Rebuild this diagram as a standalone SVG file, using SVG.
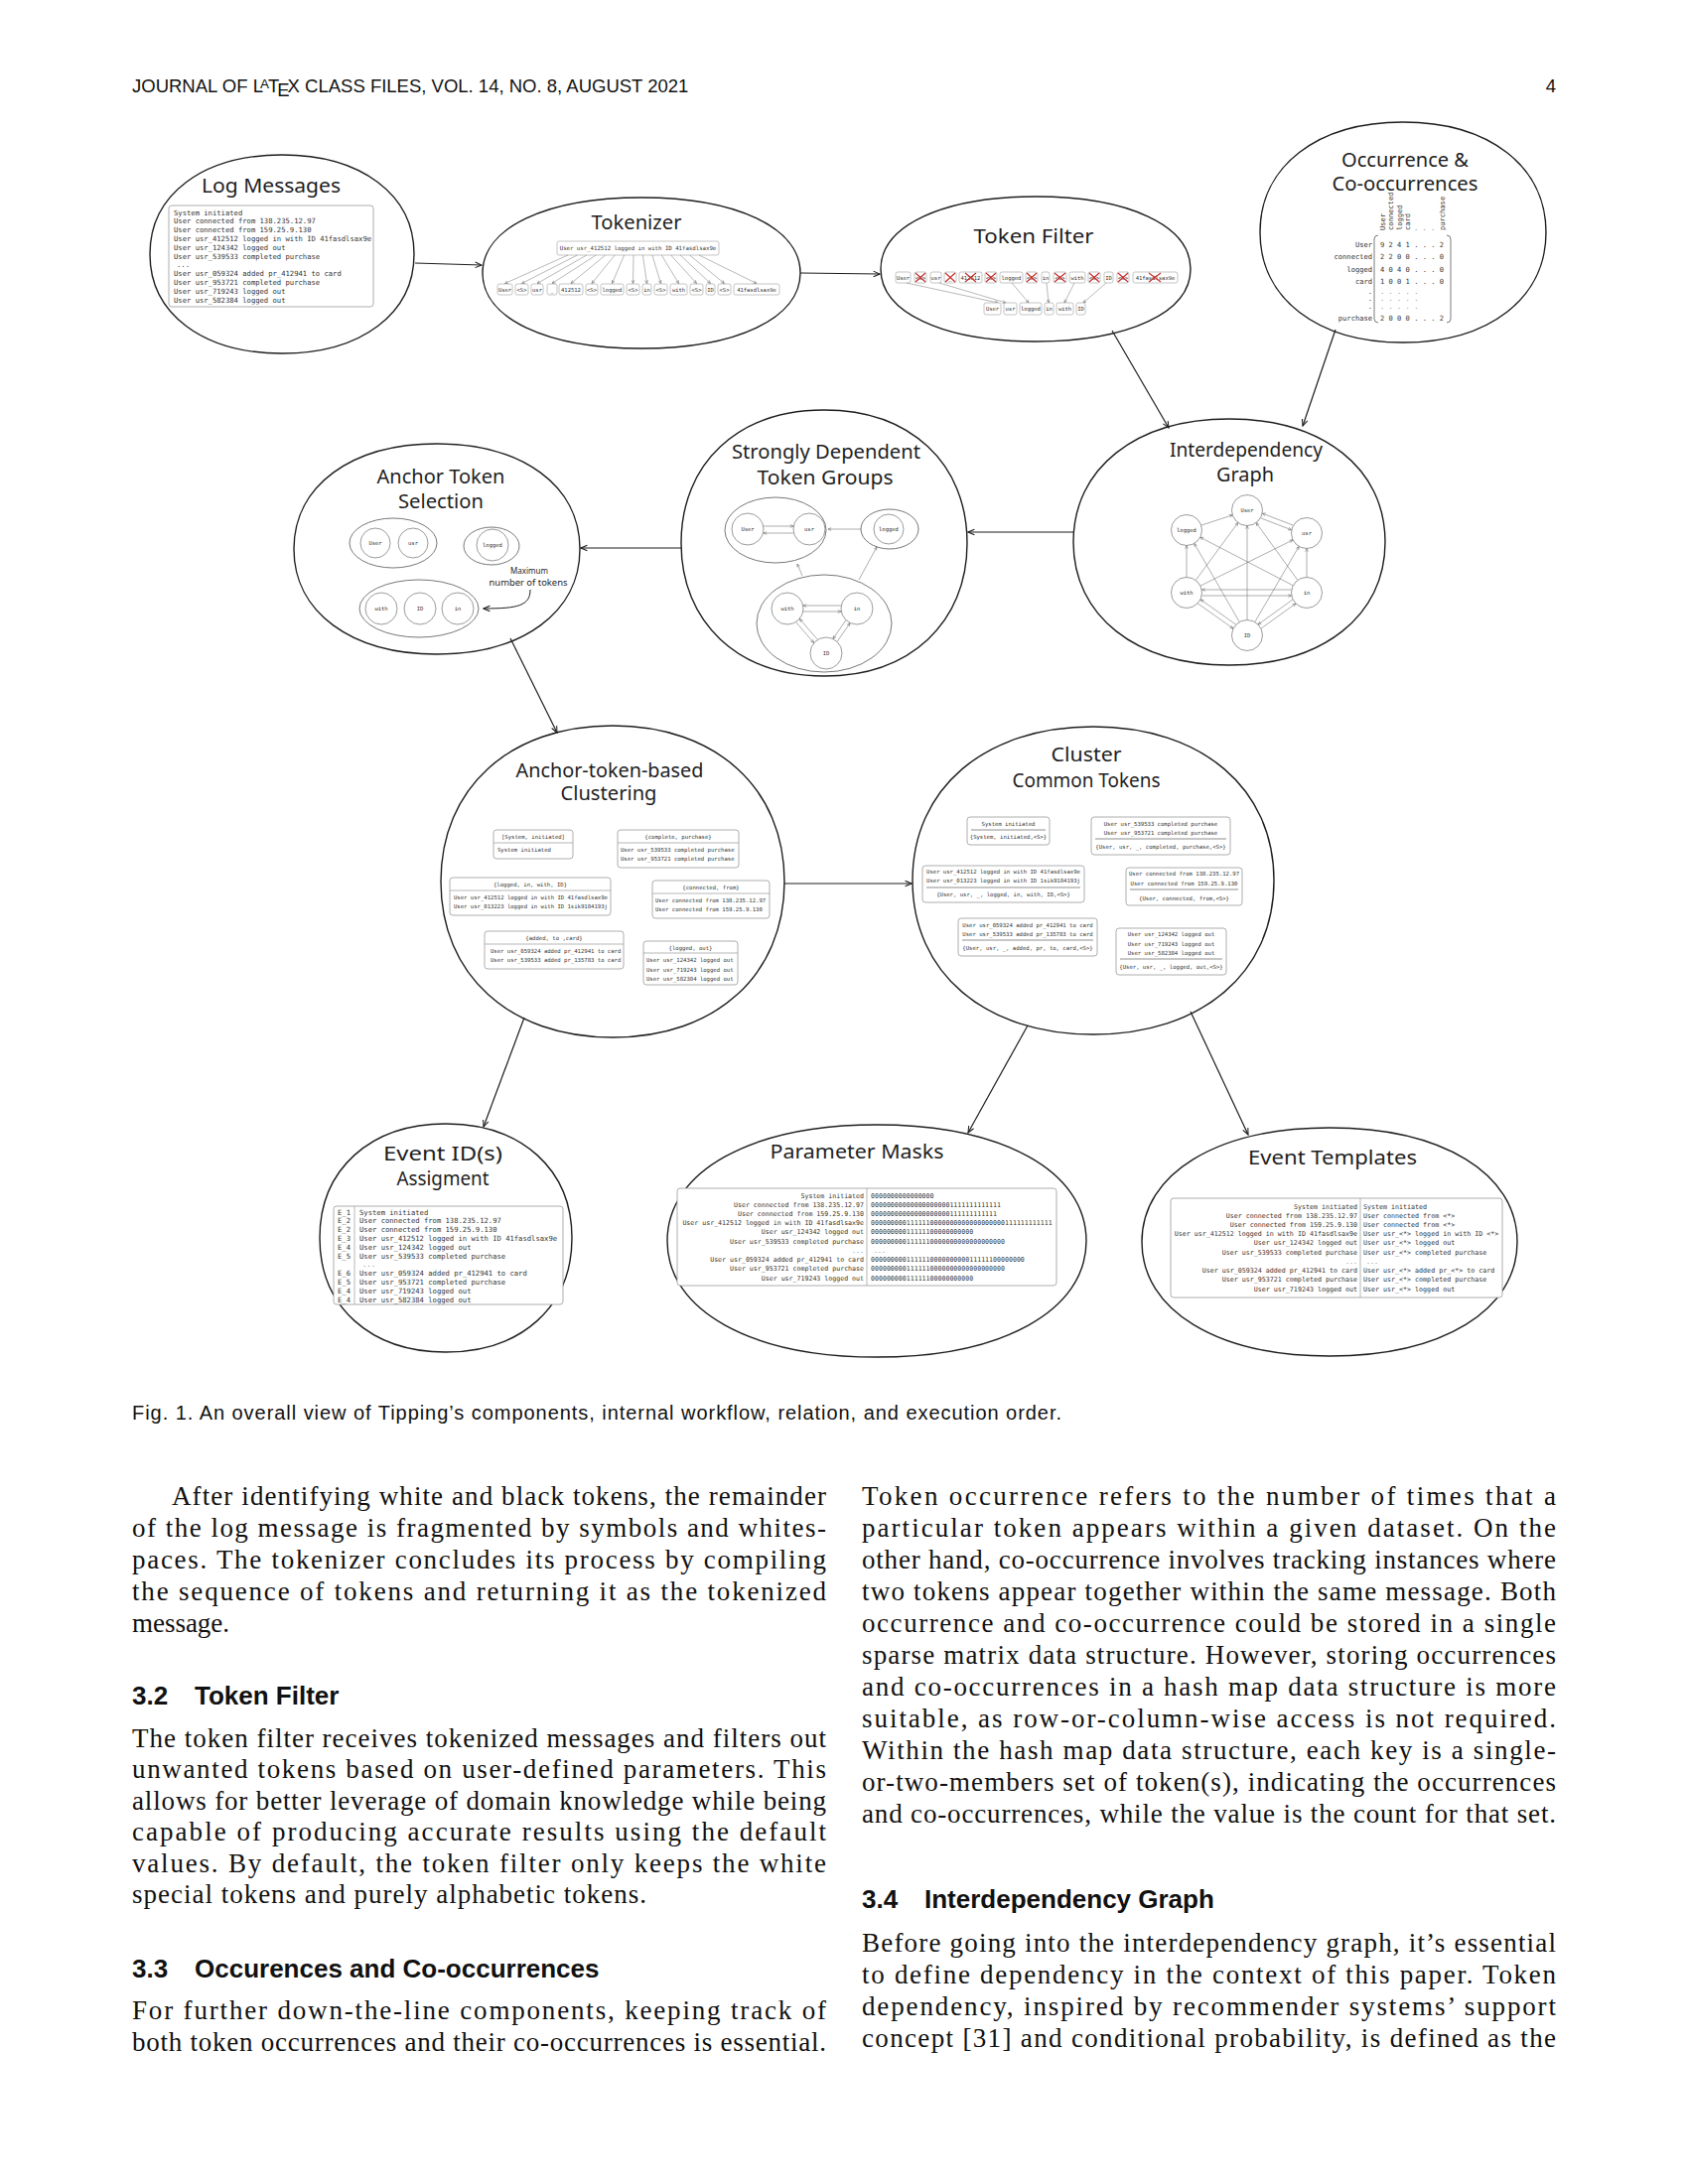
<svg xmlns="http://www.w3.org/2000/svg" width="1700" height="2200" viewBox="0 0 1700 2200">
<style>
.ell{fill:none;stroke:#1e1e1e;stroke-width:1.4}
.ttl{font-family:"Noto Sans",sans-serif;font-size:20px;fill:#1e1e1e;text-anchor:middle}
.ann{font-family:"Noto Sans",sans-serif;font-size:9px;fill:#1e1e1e;text-anchor:middle}
.m{font-family:"DejaVu Sans Mono",monospace;fill:#333}
.box{fill:#fff;stroke:#9a9a9a;stroke-width:0.8}
.tb{fill:#fff;stroke:#a0a0a0;stroke-width:0.6}
.cir{fill:#fff;stroke:#707070;stroke-width:0.7}
.grp{fill:none;stroke:#555;stroke-width:0.8}
.conn{fill:none;stroke:#1e1e1e;stroke-width:1.2;marker-end:url(#arr)}
.th{fill:none;stroke:#8a8a8a;stroke-width:0.6;marker-end:url(#arrs)}
.gl{fill:none;stroke:#777;stroke-width:0.6;marker-end:url(#arrs)}
.sep{stroke:#9a9a9a;stroke-width:0.7}
.dsep{stroke:#444;stroke-width:0.6}
.x{stroke:#c92a2a;stroke-width:1.1}
.body{font-family:"Liberation Serif",serif;font-size:27px;fill:#111}
.head{font-family:"Liberation Sans",sans-serif;font-size:26px;font-weight:bold;fill:#111}
</style>
<defs>
<marker id="arr" viewBox="0 0 10 10" refX="9" refY="5" markerWidth="8" markerHeight="8" markerUnits="userSpaceOnUse" orient="auto">
<path d="M1,1.5 L9,5 L1,8.5" fill="none" stroke="#1e1e1e" stroke-width="1.3"/>
</marker>
<marker id="arrs" viewBox="0 0 10 10" refX="9" refY="5" markerWidth="4" markerHeight="4" markerUnits="userSpaceOnUse" orient="auto">
<path d="M1,1.5 L9,5 L1,8.5" fill="none" stroke="#666" stroke-width="1.4"/>
</marker>
</defs>
<rect width="1700" height="2200" fill="#fff"/>

<g id="header" font-family="Liberation Sans, sans-serif" font-size="18.5" fill="#111">
<text x="133" y="93">JOURNAL OF L<tspan dx="-3" dy="-4" font-size="13.5">A</tspan><tspan dx="-1" dy="4">T</tspan><tspan dx="-2" dy="4">E</tspan><tspan dx="-2" dy="-4">X CLASS FILES, VOL. 14, NO. 8, AUGUST 2021</tspan></text>
<text x="1567" y="93" text-anchor="end">4</text>
</g>

<g id="connectors">
<path class="conn" d="M418,265 L485,267"/>
<path class="conn" d="M806,275 L886,276"/>
<path class="conn" d="M1120,333 L1177,431"/>
<path class="conn" d="M1345,332 L1312,429"/>
<path class="conn" d="M1081,536 L975,536"/>
<path class="conn" d="M686,552 L585,552"/>
<path class="conn" d="M514,643 L561,738"/>
<path class="conn" d="M790,890 L918,890"/>
<path class="conn" d="M528,1025 L487,1135"/>
<path class="conn" d="M1035,1033 L975,1141"/>
<path class="conn" d="M1199,1019 L1257,1143"/>
</g>

<g id="log-messages">
<path class="ell" d="M151,256 C151,196 204.2,156 284,156 C363.8,156 417,196 417,256 C417,316 363.8,356 284,356 C204.2,356 151,316 151,256 Z"/>
<text class="ttl" x="273" y="194" textLength="140" lengthAdjust="spacingAndGlyphs">Log Messages</text>
<rect class="box" x="170" y="207" width="206" height="102" rx="3"/>
<g class="m" font-size="7.2">
<text x="175" y="216.5">System initiated</text>
<text x="175" y="225.3">User connected from 138.235.12.97</text>
<text x="175" y="234.1">User connected from 159.25.9.130</text>
<text x="175" y="242.9">User usr_412512 logged in with ID 41fasdlsax9e</text>
<text x="175" y="251.7">User usr_124342 logged out</text>
<text x="175" y="260.5">User usr_539533 completed purchase</text>
<text x="178" y="269.3">...</text>
<text x="175" y="278.1">User usr_059324 added pr_412941 to card</text>
<text x="175" y="286.9">User usr_953721 completed purchase</text>
<text x="175" y="295.7">User usr_719243 logged out</text>
<text x="175" y="304.5">User usr_582384 logged out</text>
</g>
</g>

<g id="tokenizer">
<path class="ell" d="M486,275 C486,229.4 550,199 646,199 C742,199 806,229.4 806,275 C806,320.6 742,351 646,351 C550,351 486,320.6 486,275 Z"/>
<text class="ttl" x="641" y="231" textLength="91" lengthAdjust="spacingAndGlyphs">Tokenizer</text>
<rect class="tb" x="561" y="243" width="163" height="14" rx="2"/>
<text class="m" font-size="5.7" x="642.5" y="252" text-anchor="middle">User usr_412512 logged in with ID 41fasdlsax9e</text>
<g>
<path class="th" d="M572,257 L508.5,285.5"/>
<path class="th" d="M581.4,257 L525.5,285.5"/>
<path class="th" d="M590.9,257 L541,285.5"/>
<path class="th" d="M600.3,257 L556,285.5"/>
<path class="th" d="M609.7,257 L575,285.5"/>
<path class="th" d="M619.1,257 L596,285.5"/>
<path class="th" d="M628.6,257 L616.5,285.5"/>
<path class="th" d="M638,257 L637.5,285.5"/>
<path class="th" d="M647.4,257 L651.5,285.5"/>
<path class="th" d="M656.9,257 L665.5,285.5"/>
<path class="th" d="M666.3,257 L683.5,285.5"/>
<path class="th" d="M675.7,257 L701.5,285.5"/>
<path class="th" d="M685.1,257 L715.5,285.5"/>
<path class="th" d="M694.6,257 L729.5,285.5"/>
<path class="th" d="M704,257 L762,285.5"/>
</g>
<g>
<rect class="tb" x="501" y="286" width="15" height="11" rx="2"/>
<rect class="tb" x="519" y="286" width="13" height="11" rx="2"/>
<rect class="tb" x="535" y="286" width="12" height="11" rx="2"/>
<rect class="tb" x="551" y="286" width="10" height="11" rx="2"/>
<rect class="tb" x="563" y="286" width="24" height="11" rx="2"/>
<rect class="tb" x="590" y="286" width="12" height="11" rx="2"/>
<rect class="tb" x="605" y="286" width="23" height="11" rx="2"/>
<rect class="tb" x="631" y="286" width="13" height="11" rx="2"/>
<rect class="tb" x="647" y="286" width="9" height="11" rx="2"/>
<rect class="tb" x="659" y="286" width="13" height="11" rx="2"/>
<rect class="tb" x="675" y="286" width="17" height="11" rx="2"/>
<rect class="tb" x="695" y="286" width="13" height="11" rx="2"/>
<rect class="tb" x="711" y="286" width="9" height="11" rx="2"/>
<rect class="tb" x="723" y="286" width="13" height="11" rx="2"/>
<rect class="tb" x="739" y="286" width="46" height="11" rx="2"/>
</g>
<g class="m" font-size="5.5" text-anchor="middle">
<text x="508.5" y="293.5">User</text>
<text x="525.5" y="293.5">&lt;S&gt;</text>
<text x="541" y="293.5">usr</text>
<text x="556" y="293.5">_</text>
<text x="575" y="293.5">412512</text>
<text x="596" y="293.5">&lt;S&gt;</text>
<text x="616.5" y="293.5">logged</text>
<text x="637.5" y="293.5">&lt;S&gt;</text>
<text x="651.5" y="293.5">in</text>
<text x="665.5" y="293.5">&lt;S&gt;</text>
<text x="683.5" y="293.5">with</text>
<text x="701.5" y="293.5">&lt;S&gt;</text>
<text x="715.5" y="293.5">ID</text>
<text x="729.5" y="293.5">&lt;S&gt;</text>
<text x="762" y="293.5">41fasdlsax9e</text>
</g>
</g>

<g id="token-filter">
<path class="ell" d="M887,271 C887,227.2 949.4,198 1043,198 C1136.6,198 1199,227.2 1199,271 C1199,314.8 1136.6,344 1043,344 C949.4,344 887,314.8 887,271 Z"/>
<text class="ttl" x="1041" y="245" textLength="121" lengthAdjust="spacingAndGlyphs">Token Filter</text>
<g>
<rect class="tb" x="902" y="274" width="15" height="11" rx="2"/>
<rect class="tb" x="921" y="274" width="12" height="11" rx="2"/>
<rect class="tb" x="937" y="274" width="11" height="11" rx="2"/>
<rect class="tb" x="951" y="274" width="12" height="11" rx="2"/>
<rect class="tb" x="966" y="274" width="23" height="11" rx="2"/>
<rect class="tb" x="992" y="274" width="12" height="11" rx="2"/>
<rect class="tb" x="1007" y="274" width="23" height="11" rx="2"/>
<rect class="tb" x="1033" y="274" width="12" height="11" rx="2"/>
<rect class="tb" x="1049" y="274" width="8" height="11" rx="2"/>
<rect class="tb" x="1061" y="274" width="13" height="11" rx="2"/>
<rect class="tb" x="1077" y="274" width="16" height="11" rx="2"/>
<rect class="tb" x="1096" y="274" width="12" height="11" rx="2"/>
<rect class="tb" x="1112" y="274" width="9" height="11" rx="2"/>
<rect class="tb" x="1125" y="274" width="12" height="11" rx="2"/>
<rect class="tb" x="1141" y="274" width="45" height="11" rx="2"/>
</g>
<g class="m" font-size="5.5" text-anchor="middle">
<text x="909.5" y="281.5">User</text>
<text x="927" y="281.5">&lt;S&gt;</text>
<text x="942.5" y="281.5">usr</text>
<text x="957" y="281.5">_</text>
<text x="977.5" y="281.5">412512</text>
<text x="998" y="281.5">&lt;S&gt;</text>
<text x="1018.5" y="281.5">logged</text>
<text x="1039" y="281.5">&lt;S&gt;</text>
<text x="1053" y="281.5">in</text>
<text x="1067.5" y="281.5">&lt;S&gt;</text>
<text x="1085" y="281.5">with</text>
<text x="1102" y="281.5">&lt;S&gt;</text>
<text x="1116.5" y="281.5">ID</text>
<text x="1131" y="281.5">&lt;S&gt;</text>
<text x="1163.5" y="281.5">41fasdlsax9e</text>
</g>
<g class="x">
<path d="M922,275 L932,284 M932,275 L922,284"/>
<path d="M952,275 L962,284 M962,275 L952,284"/>
<path d="M972,275 L983,284 M983,275 L972,284"/>
<path d="M993,275 L1003,284 M1003,275 L993,284"/>
<path d="M1034,275 L1044,284 M1044,275 L1034,284"/>
<path d="M1062,275 L1073,284 M1073,275 L1062,284"/>
<path d="M1097,275 L1107,284 M1107,275 L1097,284"/>
<path d="M1126,275 L1136,284 M1136,275 L1126,284"/>
<path d="M1157,275 L1169,284 M1169,275 L1157,284"/>
</g>
<g>
<path class="th" d="M913,285 L1005,305"/>
<path class="th" d="M946,285 L1013,305"/>
<path class="th" d="M1019,285 L1036,305"/>
<path class="th" d="M1054,285 L1056,305"/>
<path class="th" d="M1082,285 L1072,305"/>
<path class="th" d="M1114,285 L1091,305"/>
</g>
<g>
<rect class="tb" x="991" y="305" width="17" height="12" rx="2"/>
<rect class="tb" x="1011" y="305" width="13" height="12" rx="2"/>
<rect class="tb" x="1027" y="305" width="22" height="12" rx="2"/>
<rect class="tb" x="1052" y="305" width="9" height="12" rx="2"/>
<rect class="tb" x="1064" y="305" width="17" height="12" rx="2"/>
<rect class="tb" x="1084" y="305" width="9" height="12" rx="2"/>
</g>
<g class="m" font-size="5.5" text-anchor="middle">
<text x="999.5" y="313">User</text>
<text x="1017.5" y="313">usr</text>
<text x="1038" y="313">logged</text>
<text x="1056.5" y="313">in</text>
<text x="1072.5" y="313">with</text>
<text x="1088.5" y="313">ID</text>
</g>
</g>

<g id="occurrence">
<path class="ell" d="M1269,234 C1269,167.4 1326.6,123 1413,123 C1499.4,123 1557,167.4 1557,234 C1557,300.6 1499.4,345 1413,345 C1326.6,345 1269,300.6 1269,234 Z"/>
<text class="ttl" x="1415" y="168" textLength="128" lengthAdjust="spacingAndGlyphs">Occurrence &amp;</text>
<text class="ttl" x="1415" y="192" textLength="147" lengthAdjust="spacingAndGlyphs">Co-occurrences</text>
<g class="m" font-size="7.1">
<text transform="translate(1394.5,232) rotate(-90)">User</text>
<text transform="translate(1403,232) rotate(-90)">connected</text>
<text transform="translate(1411.5,232) rotate(-90)">logged</text>
<text transform="translate(1420,232) rotate(-90)">card</text>
<text x="1424" y="232" fill="#888">. . .</text>
<text transform="translate(1454.5,232) rotate(-90)">purchase</text>
</g>
<g class="m" font-size="7.1" text-anchor="end">
<text x="1382" y="249">User</text>
<text x="1382" y="261">connected</text>
<text x="1382" y="273.5">logged</text>
<text x="1382" y="286">card</text>
<text x="1382" y="295.5">.</text>
<text x="1382" y="303">.</text>
<text x="1382" y="310.5">.</text>
<text x="1382" y="322.5">purchase</text>
</g>
<g class="m" font-size="7.1" xml:space="preserve">
<text x="1390" y="249">9 2 4 1 . . . 2</text>
<text x="1390" y="261">2 2 0 0 . . . 0</text>
<text x="1390" y="273.5">4 0 4 0 . . . 0</text>
<text x="1390" y="286">1 0 0 1 . . . 0</text>
<text x="1390" y="295.5" fill="#999">. . . .       .</text>
<text x="1390" y="303" fill="#999">. . . .       .</text>
<text x="1390" y="310.5" fill="#999">. . . .       .</text>
<text x="1390" y="322.5">2 0 0 0 . . . 2</text>
</g>
<path d="M1388,237 Q1384,237 1384,241 L1384,321 Q1384,325 1388,325" fill="none" stroke="#444" stroke-width="0.7"/>
<path d="M1457,237 Q1461,237 1461,241 L1461,321 Q1461,325 1457,325" fill="none" stroke="#444" stroke-width="0.7"/>
</g>

<g id="anchor-token-selection">
<path class="ell" d="M296,553 C296,489.4 353.6,447 440,447 C526.4,447 584,489.4 584,553 C584,616.6 526.4,659 440,659 C353.6,659 296,616.6 296,553 Z"/>
<text class="ttl" x="444" y="487" textLength="129" lengthAdjust="spacingAndGlyphs">Anchor Token</text>
<text class="ttl" x="444" y="512" textLength="86" lengthAdjust="spacingAndGlyphs">Selection</text>
<ellipse class="grp" cx="396" cy="547" rx="44" ry="25"/>
<circle class="cir" cx="378" cy="547" r="15"/>
<circle class="cir" cx="416" cy="547" r="15"/>
<ellipse class="grp" cx="495" cy="550" rx="28" ry="19"/>
<circle class="cir" cx="496" cy="549" r="16"/>
<ellipse class="grp" cx="422" cy="613" rx="60" ry="29"/>
<circle class="cir" cx="384" cy="613" r="16"/>
<circle class="cir" cx="423" cy="613" r="16"/>
<circle class="cir" cx="461" cy="613" r="16"/>
<g class="m" font-size="5.5" text-anchor="middle">
<text x="378" y="549">User</text>
<text x="416" y="549">usr</text>
<text x="496" y="551">logged</text>
<text x="384" y="615">with</text>
<text x="423" y="615">ID</text>
<text x="461" y="615">in</text>
</g>
<text class="ann" x="533" y="578" textLength="38" lengthAdjust="spacingAndGlyphs">Maximum</text>
<text class="ann" x="532" y="590" textLength="79" lengthAdjust="spacingAndGlyphs">number of tokens</text>
<path d="M534,594 C534,610 522,613 487,613" fill="none" stroke="#1e1e1e" stroke-width="1" marker-end="url(#arr)"/>
</g>

<g id="strongly-dependent">
<path class="ell" d="M686,547 C686,466.6 743.6,413 830,413 C916.4,413 974,466.6 974,547 C974,627.4 916.4,681 830,681 C743.6,681 686,627.4 686,547 Z"/>
<text class="ttl" x="832" y="462" textLength="190" lengthAdjust="spacingAndGlyphs">Strongly Dependent</text>
<text class="ttl" x="831" y="488" textLength="137" lengthAdjust="spacingAndGlyphs">Token Groups</text>
<ellipse class="grp" cx="781" cy="534" rx="51" ry="33"/>
<circle class="cir" cx="753" cy="533" r="16"/>
<circle class="cir" cx="815" cy="533" r="16"/>
<ellipse class="grp" cx="896" cy="533" rx="29" ry="20"/>
<circle class="cir" cx="895" cy="533" r="15"/>
<ellipse class="grp" cx="830" cy="628" rx="68" ry="49"/>
<circle class="cir" cx="793" cy="613" r="16"/>
<circle class="cir" cx="863" cy="613" r="16"/>
<circle class="cir" cx="832" cy="658" r="16"/>
<g class="m" font-size="5.5" text-anchor="middle">
<text x="753" y="535">User</text>
<text x="815" y="535">usr</text>
<text x="895" y="535">logged</text>
<text x="793" y="615">with</text>
<text x="863" y="615">in</text>
<text x="832" y="660">ID</text>
</g>
<g>
<path class="gl" d="M769,530 L799,530"/>
<path class="gl" d="M799,537 L769,537"/>
<path class="gl" d="M867,533 L834,533"/>
<path class="gl" d="M847,610 L809,610"/>
<path class="gl" d="M809,616 L847,616"/>
<path class="gl" d="M801.6,626.7 L819.6,647.5"/>
<path class="gl" d="M823.4,644.3 L805.4,623.5"/>
<path class="gl" d="M851.8,624.8 L839,643.4"/>
<path class="gl" d="M843.2,646.2 L856,627.6"/>
<path class="gl" d="M808,580 L803,568"/>
<path class="gl" d="M865,584 L883,551"/>
</g>
</g>

<g id="interdependency-graph">
<path class="ell" d="M1081,546 C1081,471.6 1143.8,422 1238,422 C1332.2,422 1395,471.6 1395,546 C1395,620.4 1332.2,670 1238,670 C1143.8,670 1081,620.4 1081,546 Z"/>
<text class="ttl" x="1255" y="460" textLength="154" lengthAdjust="spacingAndGlyphs">Interdependency</text>
<text class="ttl" x="1254" y="485" textLength="58" lengthAdjust="spacingAndGlyphs">Graph</text>
<g>
<path class="gl" d="M1209.7,529.2 L1241.3,518.8"/>
<path class="gl" d="M1269.6,521.8 L1300.6,533.8"/>
<path class="gl" d="M1302.4,529.2 L1271.4,517.2"/>
<path class="gl" d="M1195,581.5 L1195,549.5"/>
<path class="gl" d="M1316,581.5 L1316,552.5"/>
<path class="gl" d="M1204.2,584.5 L1246.8,526.5"/>
<path class="gl" d="M1208.9,590.1 L1302.1,543.9"/>
<path class="gl" d="M1306.9,584.4 L1265.1,526.6"/>
<path class="gl" d="M1302.3,589.8 L1208.7,541.2"/>
<path class="gl" d="M1256,624.5 L1256,529.5"/>
<path class="gl" d="M1248.3,626.6 L1202.7,547.4"/>
<path class="gl" d="M1263.8,626.6 L1308.2,550.4"/>
<path class="gl" d="M1300.5,594 L1210.5,594"/>
<path class="gl" d="M1210.5,600 L1300.5,600"/>
<path class="gl" d="M1206.3,607.9 L1241.9,633.1"/>
<path class="gl" d="M1244.7,629.1 L1209.1,603.9"/>
<path class="gl" d="M1301.9,604 L1267.1,629"/>
<path class="gl" d="M1270.1,633 L1304.9,608"/>
</g>
<circle class="cir" cx="1256" cy="514" r="15.5"/>
<circle class="cir" cx="1316" cy="537" r="15.5"/>
<circle class="cir" cx="1195" cy="534" r="15.5"/>
<circle class="cir" cx="1195" cy="597" r="15.5"/>
<circle class="cir" cx="1316" cy="597" r="15.5"/>
<circle class="cir" cx="1256" cy="640" r="15.5"/>
<g class="m" font-size="5.5" text-anchor="middle">
<text x="1256" y="516">User</text>
<text x="1316" y="539">usr</text>
<text x="1195" y="536">logged</text>
<text x="1195" y="599">with</text>
<text x="1316" y="599">in</text>
<text x="1256" y="642">ID</text>
</g>
</g>

<g id="anchor-token-based-clustering">
<path class="ell" d="M444,888 C444,793.8 513.2,731 617,731 C720.8,731 790,793.8 790,888 C790,982.2 720.8,1045 617,1045 C513.2,1045 444,982.2 444,888 Z"/>
<text class="ttl" x="614" y="783" textLength="189" lengthAdjust="spacingAndGlyphs">Anchor-token-based</text>
<text class="ttl" x="613" y="806" textLength="97" lengthAdjust="spacingAndGlyphs">Clustering</text>
<rect class="box" x="497" y="836" width="80" height="29" rx="3"/>
<line class="sep" x1="497" y1="849" x2="577" y2="849"/>
<rect class="box" x="622" y="836" width="122" height="38" rx="3"/>
<line class="sep" x1="622" y1="849" x2="744" y2="849"/>
<rect class="box" x="453" y="884" width="162" height="38" rx="3"/>
<line class="sep" x1="453" y1="897" x2="615" y2="897"/>
<rect class="box" x="657" y="887" width="118" height="38" rx="3"/>
<line class="sep" x1="657" y1="900" x2="775" y2="900"/>
<rect class="box" x="488" y="938" width="140" height="38" rx="3"/>
<line class="sep" x1="488" y1="951" x2="628" y2="951"/>
<rect class="box" x="648" y="948" width="95" height="44" rx="3"/>
<line class="sep" x1="648" y1="960" x2="743" y2="960"/>
<g class="m" font-size="5.6" text-anchor="middle">
<text x="537" y="844.5">[System, initiated]</text>
<text x="683" y="844.5">{complete, purchase}</text>
<text x="534" y="892.5">{logged, in, with, ID}</text>
<text x="716" y="895.5">{connected, from}</text>
<text x="558" y="947">{added, to ,card}</text>
<text x="695.5" y="956.5">{logged, out}</text>
</g>
<g class="m" font-size="5.6">
<text x="501" y="858">System initiated</text>
<text x="625" y="858">User usr_539533 completed purchase</text>
<text x="625" y="867">User usr_953721 completed purchase</text>
<text x="457" y="906">User usr_412512 logged in with ID 41fasdlsax9e</text>
<text x="457" y="915">User usr_013223 logged in with ID 1sik9184193j</text>
<text x="660" y="909">User connected from 138.235.12.97</text>
<text x="660" y="918">User connected from 159.25.9.130</text>
<text x="494" y="960">User usr_059324 added pr_412941 to card</text>
<text x="494" y="969">User usr_539533 added pr_135783 to card</text>
<text x="651" y="969">User usr_124342 logged out</text>
<text x="651" y="979">User usr_719243 logged out</text>
<text x="651" y="988">User usr_582384 logged out</text>
</g>
</g>

<g id="cluster-common-tokens">
<path class="ell" d="M919,887 C919,794 991.8,732 1101,732 C1210.2,732 1283,794 1283,887 C1283,980 1210.2,1042 1101,1042 C991.8,1042 919,980 919,887 Z"/>
<text class="ttl" x="1094" y="767" textLength="71" lengthAdjust="spacingAndGlyphs">Cluster</text>
<text class="ttl" x="1094" y="793" textLength="149" lengthAdjust="spacingAndGlyphs">Common Tokens</text>
<rect class="box" x="974" y="823" width="83" height="28" rx="3"/>
<line class="dsep" x1="978" y1="836" x2="1053" y2="836"/>
<rect class="box" x="1099" y="823" width="140" height="38" rx="3"/>
<line class="dsep" x1="1103" y1="845" x2="1235" y2="845"/>
<rect class="box" x="929" y="872" width="163" height="37" rx="3"/>
<line class="dsep" x1="933" y1="894" x2="1088" y2="894"/>
<rect class="box" x="1134" y="874" width="117" height="38" rx="3"/>
<line class="dsep" x1="1138" y1="896" x2="1247" y2="896"/>
<rect class="box" x="965" y="925" width="140" height="38" rx="3"/>
<line class="dsep" x1="969" y1="947" x2="1101" y2="947"/>
<rect class="box" x="1124" y="935" width="111" height="47" rx="3"/>
<line class="dsep" x1="1128" y1="966" x2="1231" y2="966"/>
<g class="m" font-size="5.6" text-anchor="middle">
<text x="1015.5" y="832">System initiated</text>
<text x="1015.5" y="845">{System, initiated,&lt;S&gt;}</text>
<text x="1169" y="832">User usr_539533 completed purchase</text>
<text x="1169" y="841">User usr_953721 completed purchase</text>
<text x="1169" y="855">{User, usr, _, completed, purchase,&lt;S&gt;}</text>
<text x="1010.5" y="880">User usr_412512 logged in with ID 41fasdlsax9e</text>
<text x="1010.5" y="889">User usr_013223 logged in with ID 1sik9184193j</text>
<text x="1010.5" y="903">{User, usr, _, logged, in, with, ID,&lt;S&gt;}</text>
<text x="1192.5" y="882">User connected from 138.235.12.97</text>
<text x="1192.5" y="892">User connected from 159.25.9.130</text>
<text x="1192.5" y="907">{User, connected, from,&lt;S&gt;}</text>
<text x="1035" y="934">User usr_059324 added pr_412941 to card</text>
<text x="1035" y="943">User usr_539533 added pr_135783 to card</text>
<text x="1035" y="957">{User, usr, _, added, pr, to, card,&lt;S&gt;}</text>
<text x="1179.5" y="943">User usr_124342 logged out</text>
<text x="1179.5" y="953">User usr_719243 logged out</text>
<text x="1179.5" y="962">User usr_582384 logged out</text>
<text x="1179.5" y="976">{User, usr, _, logged, out,&lt;S&gt;}</text>
</g>
</g>

<g id="event-ids-assignment">
<path class="ell" d="M322,1247 C322,1178 372.8,1132 449,1132 C525.2,1132 576,1178 576,1247 C576,1316 525.2,1362 449,1362 C372.8,1362 322,1316 322,1247 Z"/>
<text class="ttl" x="446" y="1169" textLength="120" lengthAdjust="spacingAndGlyphs">Event ID(s)</text>
<text class="ttl" x="446" y="1194" textLength="93" lengthAdjust="spacingAndGlyphs">Assigment</text>
<rect class="box" x="336" y="1215" width="231" height="99" rx="3"/>
<line class="sep" x1="357" y1="1215" x2="357" y2="1314"/>
<g class="m" font-size="7.2">
<text x="340" y="1223.5">E_1</text>
<text x="340" y="1232.3">E_2</text>
<text x="340" y="1241.1">E_2</text>
<text x="340" y="1249.9">E_3</text>
<text x="340" y="1258.7">E_4</text>
<text x="340" y="1267.5">E_5</text>
<text x="340" y="1285.1">E_6</text>
<text x="340" y="1293.9">E_5</text>
<text x="340" y="1302.7">E_4</text>
<text x="340" y="1311.5">E_4</text>
<text x="362" y="1223.5">System initiated</text>
<text x="362" y="1232.3">User connected from 138.235.12.97</text>
<text x="362" y="1241.1">User connected from 159.25.9.130</text>
<text x="362" y="1249.9">User usr_412512 logged in with ID 41fasdlsax9e</text>
<text x="362" y="1258.7">User usr_124342 logged out</text>
<text x="362" y="1267.5">User usr_539533 completed purchase</text>
<text x="365" y="1276.3" fill="#888">...</text>
<text x="362" y="1285.1">User usr_059324 added pr_412941 to card</text>
<text x="362" y="1293.9">User usr_953721 completed purchase</text>
<text x="362" y="1302.7">User usr_719243 logged out</text>
<text x="362" y="1311.5">User usr_582384 logged out</text>
</g>
</g>

<g id="parameter-masks">
<path class="ell" d="M672,1250 C672,1179.8 756.4,1133 883,1133 C1009.6,1133 1094,1179.8 1094,1250 C1094,1320.2 1009.6,1367 883,1367 C756.4,1367 672,1320.2 672,1250 Z"/>
<text class="ttl" x="863" y="1167" textLength="175" lengthAdjust="spacingAndGlyphs">Parameter Masks</text>
<rect class="box" x="682" y="1197" width="382" height="98" rx="3"/>
<line class="sep" x1="873" y1="1197" x2="873" y2="1295"/>
<g class="m" font-size="6.6" text-anchor="end">
<text x="870" y="1206.5">System initiated</text>
<text x="870" y="1215.7">User connected from 138.235.12.97</text>
<text x="870" y="1224.9">User connected from 159.25.9.130</text>
<text x="870" y="1234.2">User usr_412512 logged in with ID 41fasdlsax9e</text>
<text x="870" y="1243.4">User usr_124342 logged out</text>
<text x="870" y="1252.6">User usr_539533 completed purchase</text>
<text x="870" y="1261.8" fill="#888">...</text>
<text x="870" y="1271">User usr_059324 added pr_412941 to card</text>
<text x="870" y="1280.3">User usr_953721 completed purchase</text>
<text x="870" y="1289.5">User usr_719243 logged out</text>
</g>
<g class="m" font-size="6.6">
<text x="877" y="1206.5">0000000000000000</text>
<text x="877" y="1215.7">000000000000000000001111111111111</text>
<text x="877" y="1224.9">00000000000000000000111111111111</text>
<text x="877" y="1234.2">0000000001111110000000000000000000111111111111</text>
<text x="877" y="1243.4">00000000011111100000000000</text>
<text x="877" y="1252.6">0000000001111110000000000000000000</text>
<text x="880" y="1261.8" fill="#888">...</text>
<text x="877" y="1271">000000000111111000000000011111100000000</text>
<text x="877" y="1280.3">0000000001111110000000000000000000</text>
<text x="877" y="1289.5">00000000011111100000000000</text>
</g>
</g>

<g id="event-templates">
<path class="ell" d="M1150,1251 C1150,1182 1225.6,1136 1339,1136 C1452.4,1136 1528,1182 1528,1251 C1528,1320 1452.4,1366 1339,1366 C1225.6,1366 1150,1320 1150,1251 Z"/>
<text class="ttl" x="1342" y="1173" textLength="170" lengthAdjust="spacingAndGlyphs">Event Templates</text>
<rect class="box" x="1179" y="1207" width="334" height="100" rx="3"/>
<line class="sep" x1="1370" y1="1207" x2="1370" y2="1307"/>
<g class="m" font-size="6.67" text-anchor="end">
<text x="1367" y="1217.5">System initiated</text>
<text x="1367" y="1226.7">User connected from 138.235.12.97</text>
<text x="1367" y="1235.9">User connected from 159.25.9.130</text>
<text x="1367" y="1245.2">User usr_412512 logged in with ID 41fasdlsax9e</text>
<text x="1367" y="1254.4">User usr_124342 logged out</text>
<text x="1367" y="1263.6">User usr_539533 completed purchase</text>
<text x="1367" y="1272.8" fill="#888">...</text>
<text x="1367" y="1282">User usr_059324 added pr_412941 to card</text>
<text x="1367" y="1291.3">User usr_953721 completed purchase</text>
<text x="1367" y="1300.5">User usr_719243 logged out</text>
</g>
<g class="m" font-size="6.67">
<text x="1373" y="1217.5">System initiated</text>
<text x="1373" y="1226.7">User connected from &lt;*&gt;</text>
<text x="1373" y="1235.9">User connected from &lt;*&gt;</text>
<text x="1373" y="1245.2">User usr_&lt;*&gt; logged in with ID &lt;*&gt;</text>
<text x="1373" y="1254.4">User usr_&lt;*&gt; logged out</text>
<text x="1373" y="1263.6">User usr_&lt;*&gt; completed purchase</text>
<text x="1376" y="1272.8" fill="#888">...</text>
<text x="1373" y="1282">User usr_&lt;*&gt; added pr_&lt;*&gt; to card</text>
<text x="1373" y="1291.3">User usr_&lt;*&gt; completed purchase</text>
<text x="1373" y="1300.5">User usr_&lt;*&gt; logged out</text>
</g>
</g>

<g id="caption">
<text x="133" y="1430" font-family="Liberation Sans, sans-serif" font-size="20" fill="#111" textLength="936" lengthAdjust="spacing">Fig. 1. An overall view of Tipping’s components, internal workflow, relation, and execution order.</text>
</g>

<g id="body-left">
<text class="body" x="173" y="1516" textLength="659" lengthAdjust="spacing">After identifying white and black tokens, the remainder</text>
<text class="body" x="133" y="1548" textLength="699" lengthAdjust="spacing">of the log message is fragmented by symbols and whites-</text>
<text class="body" x="133" y="1580" textLength="699" lengthAdjust="spacing">paces. The tokenizer concludes its process by compiling</text>
<text class="body" x="133" y="1612" textLength="699" lengthAdjust="spacing">the sequence of tokens and returning it as the tokenized</text>
<text class="body" x="133" y="1644" textLength="98" lengthAdjust="spacing">message.</text>
<text class="head" x="133" y="1717">3.2</text>
<text class="head" x="196" y="1717">Token Filter</text>
<text class="body" x="133" y="1760" textLength="699" lengthAdjust="spacing">The token filter receives tokenized messages and filters out</text>
<text class="body" x="133" y="1791" textLength="699" lengthAdjust="spacing">unwanted tokens based on user-defined parameters. This</text>
<text class="body" x="133" y="1823" textLength="699" lengthAdjust="spacing">allows for better leverage of domain knowledge while being</text>
<text class="body" x="133" y="1854" textLength="699" lengthAdjust="spacing">capable of producing accurate results using the default</text>
<text class="body" x="133" y="1886" textLength="699" lengthAdjust="spacing">values. By default, the token filter only keeps the white</text>
<text class="body" x="133" y="1917" textLength="518" lengthAdjust="spacing">special tokens and purely alphabetic tokens.</text>
<text class="head" x="133" y="1992">3.3</text>
<text class="head" x="196" y="1992">Occurences and Co-occurrences</text>
<text class="body" x="133" y="2034" textLength="699" lengthAdjust="spacing">For further down-the-line components, keeping track of</text>
<text class="body" x="133" y="2066" textLength="699" lengthAdjust="spacing">both token occurrences and their co-occurrences is essential.</text>
</g>

<g id="body-right">
<text class="body" x="868" y="1516" textLength="699" lengthAdjust="spacing">Token occurrence refers to the number of times that a</text>
<text class="body" x="868" y="1548" textLength="699" lengthAdjust="spacing">particular token appears within a given dataset. On the</text>
<text class="body" x="868" y="1580" textLength="699" lengthAdjust="spacing">other hand, co-occurrence involves tracking instances where</text>
<text class="body" x="868" y="1612" textLength="699" lengthAdjust="spacing">two tokens appear together within the same message. Both</text>
<text class="body" x="868" y="1644" textLength="699" lengthAdjust="spacing">occurrence and co-occurrence could be stored in a single</text>
<text class="body" x="868" y="1676" textLength="699" lengthAdjust="spacing">sparse matrix data structure. However, storing occurrences</text>
<text class="body" x="868" y="1708" textLength="699" lengthAdjust="spacing">and co-occurrences in a hash map data structure is more</text>
<text class="body" x="868" y="1740" textLength="699" lengthAdjust="spacing">suitable, as row-or-column-wise access is not required.</text>
<text class="body" x="868" y="1772" textLength="699" lengthAdjust="spacing">Within the hash map data structure, each key is a single-</text>
<text class="body" x="868" y="1804" textLength="699" lengthAdjust="spacing">or-two-members set of token(s), indicating the occurrences</text>
<text class="body" x="868" y="1836" textLength="699" lengthAdjust="spacing">and co-occurrences, while the value is the count for that set.</text>
<text class="head" x="868" y="1922">3.4</text>
<text class="head" x="931" y="1922">Interdependency Graph</text>
<text class="body" x="868" y="1966" textLength="699" lengthAdjust="spacing">Before going into the interdependency graph, it’s essential</text>
<text class="body" x="868" y="1998" textLength="699" lengthAdjust="spacing">to define dependency in the context of this paper. Token</text>
<text class="body" x="868" y="2030" textLength="699" lengthAdjust="spacing">dependency, inspired by recommender systems’ support</text>
<text class="body" x="868" y="2062" textLength="699" lengthAdjust="spacing">concept [31] and conditional probability, is defined as the</text>
</g>
</svg>
